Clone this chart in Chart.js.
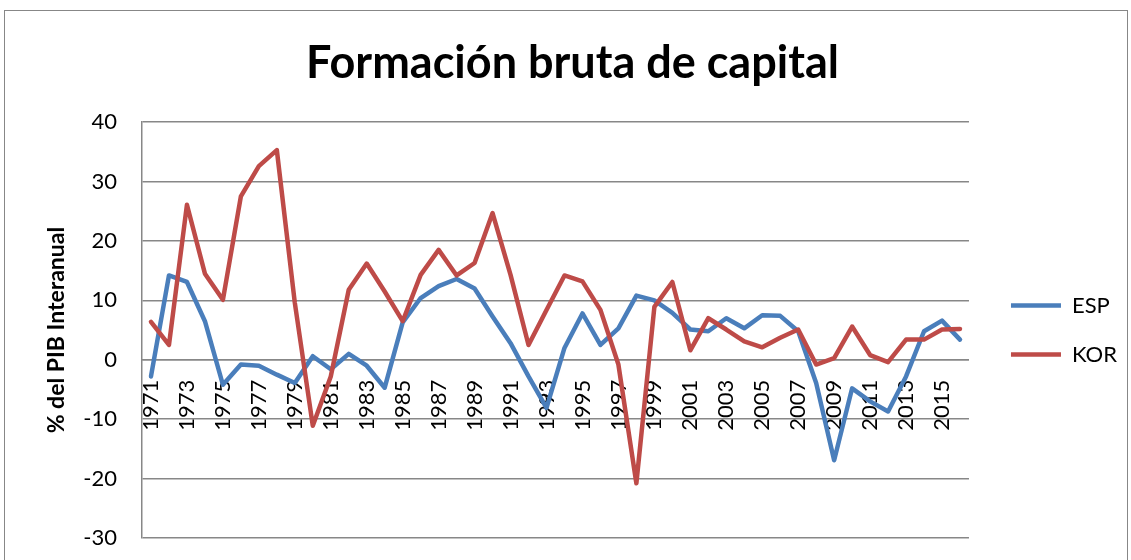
<!DOCTYPE html>
<html lang="es">
<head>
    <meta charset="UTF-8">
    <title>Formación bruta de capital</title>
    <script src="https://cdn.jsdelivr.net/npm/chart.js"></script>
    <style>
        body {
            margin: 0;
            background: #fff;
        }
        .wrap {
            position: relative;
            width: 1131px;
            height: 560px;
            overflow: hidden;
        }
        .frame {
            position: absolute;
            left: 4px;
            top: 10px;
            width: 1122px;
            height: 600px;
            border: 1.5px solid #878787;
        }
        canvas {
            position: absolute;
            left: 0;
            top: 0;
        }
    </style>
</head>
<body>
    <div class="wrap">
        <div class="frame"></div>
        <canvas id="fbcChart" width="1131" height="560"></canvas>
    </div>
    <script>
        const years = [];
        for (let y = 1971; y <= 2016; y++) years.push(String(y));

        const esp = [-2.8, 14.2, 13.1, 6.5, -4.2, -0.8, -1.0, -2.5, -3.9, 0.6,
                     -1.6, 1.0, -1.0, -4.7, 6.3, 10.4, 12.4, 13.6, 12.0, 7.3,
                     2.8, -2.8, -8.1, 2.0, 7.8, 2.5, 5.3, 10.8, 10.0, 7.9,
                     5.1, 4.8, 7.0, 5.3, 7.5, 7.4, 4.8, -3.9, -16.9, -4.8,
                     -7.0, -8.7, -2.8, 4.8, 6.6, 3.4];

        const kor = [6.4, 2.5, 26.1, 14.5, 10.1, 27.5, 32.6, 35.3, 9.6, -11.1,
                     -2.8, 11.8, 16.2, 11.5, 6.5, 14.3, 18.5, 14.2, 16.3, 24.7,
                     14.3, 2.5, 8.4, 14.2, 13.2, 8.4, -0.8, -20.8, 8.9, 13.1,
                     1.6, 7.0, 5.1, 3.1, 2.1, 3.7, 5.1, -0.8, 0.3, 5.6,
                     0.8, -0.4, 3.4, 3.4, 5.1, 5.2];

        const yMin = -30, yMax = 40, yStep = 10;

        const gridGray = '#878787';
        const fontFam = 'Lato, "Open Sans", sans-serif';

        const ctx = document.getElementById('fbcChart').getContext('2d');
        new Chart(ctx, {
            type: 'line',
            data: {
                labels: years,
                datasets: [{
                    label: 'ESP',
                    data: esp,
                    borderColor: '#4A7EBB',
                    backgroundColor: '#4A7EBB',
                    borderWidth: 4.5,
                    pointRadius: 0,
                    tension: 0,
                    borderJoinStyle: 'round',
                    borderCapStyle: 'round',
                    order: 1
                }, {
                    label: 'KOR',
                    data: kor,
                    borderColor: '#BE4B48',
                    backgroundColor: '#BE4B48',
                    borderWidth: 4.5,
                    pointRadius: 0,
                    tension: 0,
                    borderJoinStyle: 'round',
                    borderCapStyle: 'round',
                    order: 0
                }]
            },
            options: {
                responsive: false,
                animation: false,
                layout: {
                    padding: { left: 18, right: 4, top: 0, bottom: 22 }
                },
                plugins: {
                    title: {
                        display: true,
                        text: 'Formación bruta de capital',
                        color: '#000',
                        font: { family: fontFam, size: 45, weight: 'bold' },
                        padding: { top: 36.5, bottom: 31.7 }
                    },
                    legend: {
                        position: 'right',
                        fullSize: false,
                        labels: {
                            color: '#000',
                            font: { family: fontFam, size: 22 },
                            usePointStyle: true,
                            pointStyle: 'line',
                            pointStyleWidth: 50,
                            padding: 27,
                            sort: (a, b) => a.datasetIndex - b.datasetIndex
                        }
                    },
                    tooltip: { enabled: false }
                },
                scales: {
                    x: {
                        type: 'category',
                        position: { y: 0 },
                        offset: true,
                        grid: { display: false, drawTicks: false },
                        border: { display: true, color: gridGray, width: 1.5 },
                        ticks: {
                            autoSkip: false,
                            minRotation: 90,
                            maxRotation: 90,
                            padding: 20,
                            color: '#000',
                            font: { family: fontFam, size: 22 },
                            callback: function (value, index) {
                                return index % 2 === 0 ? this.getLabelForValue(value) : '';
                            }
                        },
                        afterFit: (scale) => { scale.height = 0; }
                    },
                    y: {
                        min: yMin,
                        max: yMax,
                        position: 'left',
                        grid: {
                            color: gridGray,
                            lineWidth: 1.5,
                            drawTicks: true,
                            tickLength: 22,
                            tickColor: 'rgba(0,0,0,0)'
                        },
                        border: { display: true, color: gridGray, width: 1.5 },
                        ticks: {
                            stepSize: yStep,
                            padding: 3,
                            color: '#000',
                            font: { family: fontFam, size: 22 }
                        },
                        title: {
                            display: true,
                            text: '% del PIB Interanual',
                            color: '#000',
                            font: { family: fontFam, size: 23, weight: 'bold' },
                            padding: { top: 25 }
                        },
                        afterFit: (scale) => { scale.width = 124; }
                    },
                    spacer: {
                        type: 'linear',
                        position: 'right',
                        grid: { display: false, drawTicks: false },
                        border: { display: false },
                        ticks: { display: false },
                        afterFit: (scale) => { scale.width = 15; }
                    }
                }
            }
        });
    </script>
</body>
</html>
